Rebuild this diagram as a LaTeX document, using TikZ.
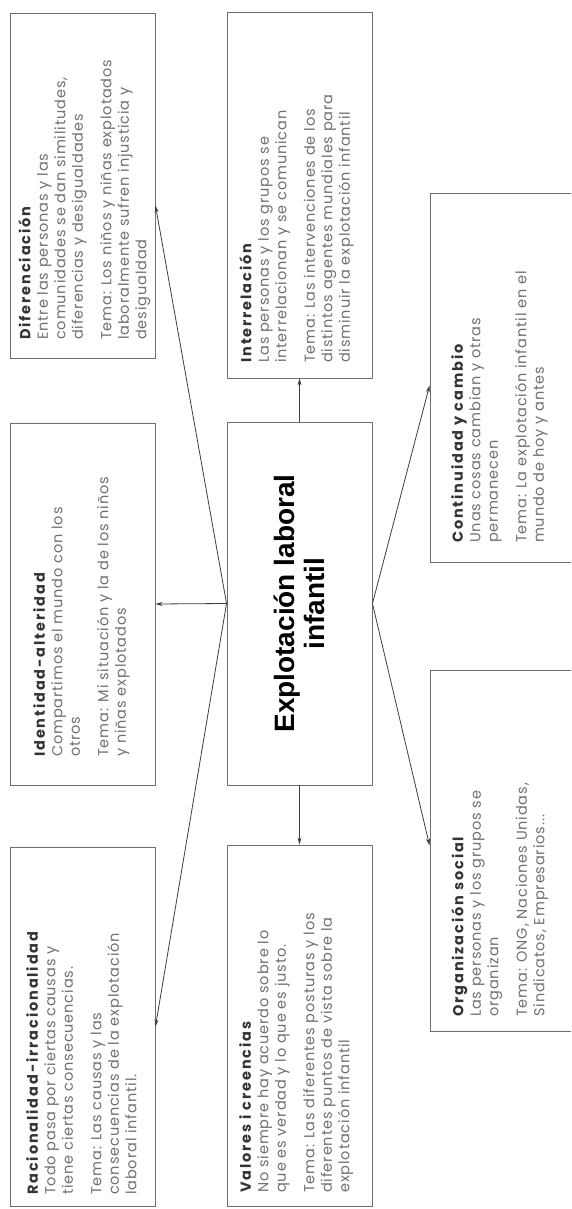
\documentclass[tikz,border=0pt]{standalone}
\usepackage{fontspec}
\setmainfont{Poppins}[LetterSpace=6]
\newfontfamily\titlefont{Poppins}[LetterSpace=13]
\newfontfamily\heavy{Liberation Sans}
\usetikzlibrary{arrows.meta,calc}
\definecolor{ink}{HTML}{707070}
\definecolor{head}{HTML}{333333}
\definecolor{frame}{HTML}{6E6E6E}
\definecolor{wire}{HTML}{3E3E3E}
\newcommand{\ttl}[1]{{\titlefont\bfseries\color{head}#1}}
\begin{document}
\begin{tikzpicture}[x=1pt,y=-1pt,
  box/.style={draw=frame, line width=0.9pt, inner sep=0pt},
  txt/.style={rotate=90, anchor=north west, align=left, inner sep=0pt,
    text=ink, font=\fontsize{14.5}{17.5}\selectfont},
  link/.style={draw=wire, line width=0.8pt, -{Stealth[length=7pt,width=4pt]}}
]
\clip (0,0) rectangle (571,1209);
\fill[white] (0,0) rectangle (571,1209);

% frames
\node[box, minimum width=145, minimum height=345] (dif) at (82.5,185.5) {};
\node[box, minimum width=145, minimum height=362] (ide) at (82.5,604) {};
\node[box, minimum width=145, minimum height=359] (rac) at (82.5,1026.5) {};
\node[box, minimum width=145, minimum height=366] (int) at (299.5,195) {};
\node[box, minimum width=145, minimum height=363] (cen) at (299.5,603.5) {};
\node[box, minimum width=145, minimum height=361] (val) at (299.5,1025.5) {};
\node[box, minimum width=155, minimum height=369] (con) at (507.5,377.5) {};
\node[box, minimum width=155, minimum height=361] (org) at (507.5,850.5) {};

% central title
\node[rotate=90, align=center, font=\heavy\bfseries\fontsize{28}{30}\selectfont, text=black]
  (title) at (cen.center) {Explotación laboral\\infantil};

% texts, reading upwards
\node[txt] (tdif) at (18,340) {\ttl{Diferenciación}\\Entre las personas y las\\comunidades se dan similitudes,\\diferencias y desigualdades\\[11pt]Tema: Los niños y niñas explotados\\laboralmente sufren injusticia y\\desigualdad};
\node[txt] (tide) at (33,757) {\ttl{Identidad-alteridad}\\Compartimos el mundo con los\\otros\\[11pt]Tema: Mi situación y la de los niños\\y niñas explotados};
\node[txt] (trac) at (26,1195) {\ttl{Racionalidad-irracionalidad}\\Todo pasa por ciertas causas y\\tiene ciertas consecuencias.\\[11pt]Tema: Las causas y las\\consecuencias de la explotación\\laboral infantil.};
\node[txt] (tint) at (239,363) {\ttl{Interrelación}\\Las personas y los grupos se\\interrelacionan y se comunican\\[11pt]Tema: Las intervenciones de los\\distintos agentes mundiales para\\disminuir la explotación infantil};
\node[txt] (tval) at (239,1193) {\ttl{Valores i creencias}\\No siempre hay acuerdo sobre lo\\que es verdad y lo que es justo.\\[11pt]Tema: Las diferentes posturas y los\\diferentes puntos de vista sobre la\\explotación infantil};
\node[txt] (tcon) at (451,543) {\ttl{Continuidad y cambio}\\Unas cosas cambian y otras\\permanecen\\[11pt]Tema: La explotación infantil en el\\mundo de hoy y antes};
\node[txt] (torg) at (451,1017) {\ttl{Organización social}\\Las personas y los grupos se\\organizan\\[11pt]Tema: ONG, Naciones Unidas,\\Sindicatos, Empresarios...};

% connectors
\coordinate (difin) at ($(dif.east)+(0,20)$);
\coordinate (conin) at ($(con.west)+(0,8)$);
\coordinate (orgin) at ($(org.west)+(0,-5)$);
\draw[link] (cen.west) -- (ide.east);
\draw[link] (cen.west) -- (difin);
\draw[link] (cen.west) -- (rac.east);
\draw[link] (cen.north) -- (int.south);
\draw[link] (cen.south) -- (val.north);
\draw[link] (cen.east) -- (conin);
\draw[link] (cen.east) -- (orgin);
\end{tikzpicture}
\end{document}
